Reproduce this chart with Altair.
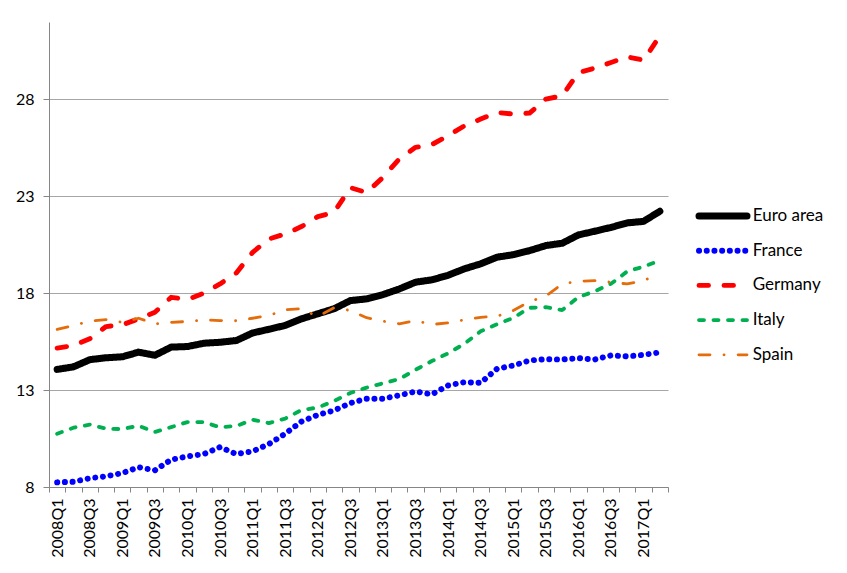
import altair as alt
import pandas as pd

quarters = ["2008Q1", "2008Q2", "2008Q3", "2008Q4", "2009Q1", "2009Q2", "2009Q3", "2009Q4",
            "2010Q1", "2010Q2", "2010Q3", "2010Q4", "2011Q1", "2011Q2", "2011Q3", "2011Q4",
            "2012Q1", "2012Q2", "2012Q3", "2012Q4", "2013Q1", "2013Q2", "2013Q3", "2013Q4",
            "2014Q1", "2014Q2", "2014Q3", "2014Q4", "2015Q1", "2015Q2", "2015Q3", "2015Q4",
            "2016Q1", "2016Q2", "2016Q3", "2016Q4", "2017Q1", "2017Q2"]

euro_area = [14.07, 14.20, 14.57, 14.67, 14.72, 14.96, 14.80, 15.22, 15.25, 15.42,
             15.47, 15.56, 15.95, 16.14, 16.34, 16.68, 16.94, 17.20, 17.62, 17.71,
             17.93, 18.22, 18.57, 18.69, 18.93, 19.26, 19.52, 19.86, 19.99, 20.20,
             20.46, 20.58, 21.01, 21.20, 21.40, 21.63, 21.71, 22.23]
france = [8.24, 8.27, 8.45, 8.55, 8.72, 9.02, 8.86, 9.41, 9.58, 9.70,
          10.06, 9.70, 9.84, 10.22, 10.75, 11.38, 11.72, 11.95, 12.33, 12.56,
          12.56, 12.73, 12.93, 12.78, 13.24, 13.41, 13.38, 14.10, 14.27, 14.53,
          14.60, 14.58, 14.65, 14.58, 14.79, 14.74, 14.82, 14.95]
germany = [15.17, 15.30, 15.65, 16.28, 16.37, 16.68, 17.02, 17.79, 17.68, 18.00,
           18.48, 19.05, 20.11, 20.80, 21.06, 21.44, 21.95, 22.18, 23.45, 23.20,
           23.98, 24.93, 25.53, 25.67, 26.13, 26.64, 26.99, 27.33, 27.25, 27.30,
           28.02, 28.19, 29.39, 29.62, 29.91, 30.20, 30.03, 31.28]
italy = [10.75, 11.06, 11.22, 11.01, 10.99, 11.16, 10.84, 11.09, 11.35, 11.35,
         11.08, 11.15, 11.47, 11.30, 11.53, 11.97, 12.10, 12.44, 12.85, 13.13,
         13.35, 13.57, 14.05, 14.50, 14.90, 15.39, 16.04, 16.40, 16.73, 17.25,
         17.28, 17.13, 17.80, 18.10, 18.49, 19.13, 19.37, 19.69]
spain = [16.13, 16.33, 16.56, 16.64, 16.50, 16.71, 16.42, 16.50, 16.54, 16.63,
         16.59, 16.58, 16.71, 16.85, 17.15, 17.20, 16.80, 17.25, 17.11, 16.74,
         16.56, 16.42, 16.59, 16.39, 16.47, 16.63, 16.76, 16.81, 17.11, 17.57,
         17.85, 18.48, 18.62, 18.65, 18.57, 18.48, 18.65, 19.03]

series_names = ["Euro area", "France", "Germany", "Italy", "Spain"]
series_values = [euro_area, france, germany, italy, spain]
colors = ["#000000", "#0000FF", "#FF0000", "#00B050", "#E46C0A"]
dashes = [[1, 0], [0.1, 7.6], [9.5, 15.5], [5, 9.5], [11, 14, 0.1, 14]]
widths = [7, 2.8, 3.8, 4, 3.3]
y_ticks = [8, 13, 18, 23, 28]

rows = []
for name, vals in zip(series_names, series_values):
    for q, v in zip(quarters, vals):
        rows.append({"quarter": q, "value": v, "series": name})
df = pd.DataFrame(rows)
legend_df = pd.DataFrame({"series": series_names})

FONT = "Lato"

color_enc = alt.Color("series:N", sort=series_names,
                      scale=alt.Scale(domain=series_names, range=colors), legend=None)
dash_enc = alt.StrokeDash("series:N", sort=series_names,
                          scale=alt.Scale(domain=series_names, range=dashes), legend=None)
width_enc = alt.StrokeWidth("series:N", sort=series_names,
                            scale=alt.Scale(domain=series_names, range=widths), legend=None)

lines = alt.Chart(df).mark_line(strokeJoin="round", strokeCap="round").encode(
    x=alt.X("quarter:N", sort=quarters,
            scale=alt.Scale(type="band", paddingInner=0, paddingOuter=0),
            axis=alt.Axis(title=None, labelAngle=-90, labelAlign="right", labelBaseline="middle",
                          labelExpr="(substring(datum.value, 5, 6) == '1' || substring(datum.value, 5, 6) == '3') ? datum.value : ''",
                          tickBand="extent", ticks=True, tickSize=5, tickColor="#868686",
                          domainColor="#868686", grid=False, labelPadding=6,
                          labelFont=FONT, labelFontSize=16, labelColor="#000000")),
    y=alt.Y("value:Q", scale=alt.Scale(domain=[8, 32], nice=False, zero=False),
            axis=alt.Axis(title=None, values=y_ticks, grid=True, gridColor="#A6A6A6",
                          tickSize=6, tickColor="#868686", domainColor="#868686",
                          labelPadding=9, labelFont=FONT, labelFontSize=16,
                          labelColor="#000000")),
    color=color_enc,
    strokeDash=dash_enc,
    strokeWidth=width_enc,
)

legend_y = alt.Y("series:N", sort=series_names,
                 scale=alt.Scale(type="point", range=[194, 332.8], padding=0), axis=None)

legend_rules = alt.Chart(legend_df).mark_rule(strokeCap="round").encode(
    x=alt.value(650), x2=alt.value(698),
    y=legend_y,
    color=color_enc,
    strokeDash=dash_enc,
    strokeWidth=width_enc,
)

legend_text = alt.Chart(legend_df).mark_text(
    align="left", baseline="middle", font=FONT, fontSize=17, color="#000000"
).encode(
    x=alt.value(703.7),
    y=legend_y,
    text="series:N",
)

chart = alt.layer(lines, legend_rules, legend_text).resolve_scale(
    y="independent"
).properties(
    width=619, height=465,
    autosize=alt.AutoSizeParams(type="none"),
    padding={"left": 41, "top": 14, "right": 171, "bottom": 78},
    background="white",
).configure_view(stroke=None)

chart.save("out.html", embed_options={"renderer": "svg", "actions": False})
